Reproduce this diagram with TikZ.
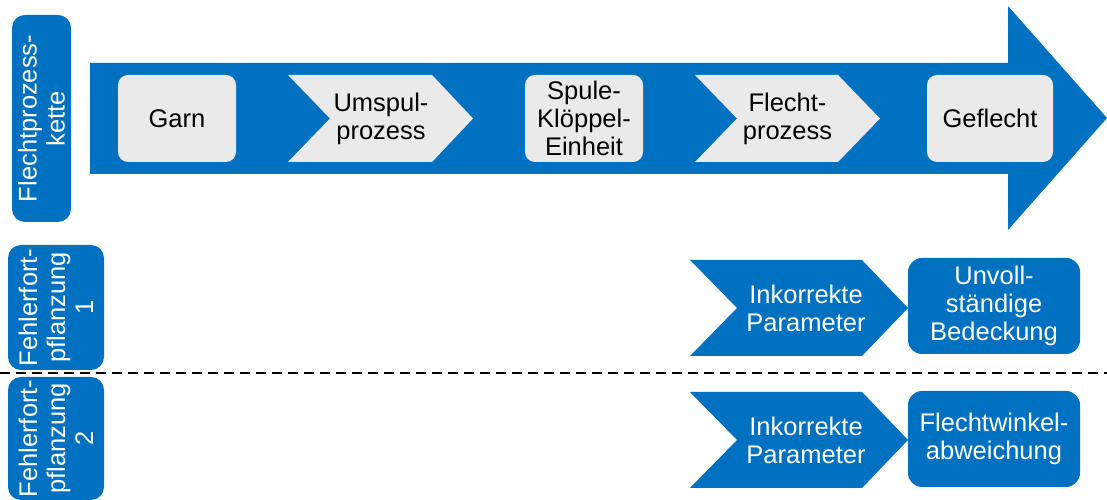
\documentclass[tikz,border=0pt]{standalone}
\usepackage{fontspec}
\setmainfont{Liberation Sans}
\definecolor{kettenblau}{HTML}{0070C0}
\definecolor{kastengrau}{HTML}{EAEAEA}

\begin{document}
\begin{tikzpicture}[x=1pt, y=1pt,
  every node/.style={inner sep=1pt, align=center, font=\fontsize{25.5}{28}\selectfont},
  kasten/.style={fill=kastengrau, rounded corners=10pt, text=black, minimum height=87},
  seitenkasten/.style={fill=kettenblau, rounded corners=13pt, text=white, rotate=90},
  fehlerkasten/.style={fill=kettenblau, rounded corners=14pt, text=white, minimum width=172, minimum height=96},
  pfeiltext/.style={text=white}]
  \useasboundingbox (0,0) rectangle (1107,500);

  % Prozesskette als grosser Pfeil
  \fill[kettenblau] (90,437) -- (1008,437) -- (1008,494) -- (1107,382)
    -- (1008,270) -- (1008,326) -- (90,326) -- cycle;
  \node[seitenkasten, minimum width=207, minimum height=59] (kette) at (41.5,381.5)
    {Flechtprozess-\\kette};

  \node[kasten, minimum width=118] (garn) at (177,381.5) {Garn};
  \fill[kastengrau] (288,425) -- (432,425) -- (473,381.5) -- (432,338) -- (288,338) -- (330,381.5) -- cycle;
  \node (umspul) at (381,381.5) {Umspul-\\prozess};
  \node[kasten, minimum width=118] (spule) at (584,381.5) {Spule-\\Klöppel-\\Einheit};
  \fill[kastengrau] (695,425) -- (838,425) -- (880,381.5) -- (838,338) -- (695,338) -- (737,381.5) -- cycle;
  \node (flecht) at (787.5,381.5) {Flecht-\\prozess};
  \node[kasten, minimum width=126] (geflecht) at (990,381.5) {Geflecht};

  % Fehlerfortpflanzung 1
  \node[seitenkasten, minimum width=125, minimum height=96] (fehler1) at (56,192.5)
    {Fehlerfort-\\pflanzung\\1};
  \fill[kettenblau] (690,240) -- (862,240) -- (908,192) -- (862,144) -- (690,144) -- (737,192) -- cycle;
  \node[pfeiltext] (param1) at (806,192) {Inkorrekte\\Parameter};
  \node[fehlerkasten] (bedeckung) at (994,194) {Unvoll-\\ständige\\Bedeckung};

  \coordinate (trennA) at (0,127);
  \coordinate (trennB) at (1107,127);
  \draw[line width=2pt, dash pattern=on 10pt off 6pt] (trennA) -- (trennB);

  % Fehlerfortpflanzung 2
  \node[seitenkasten, minimum width=123, minimum height=96] (fehler2) at (56,61.5)
    {Fehlerfort-\\pflanzung\\2};
  \fill[kettenblau] (690,108) -- (862,108) -- (908,60) -- (862,12) -- (690,12) -- (737,60) -- cycle;
  \node[pfeiltext] (param2) at (806,60) {Inkorrekte\\Parameter};
  \node[fehlerkasten] (winkel) at (994,61) {Flechtwinkel-\\abweichung};
\end{tikzpicture}
\end{document}
